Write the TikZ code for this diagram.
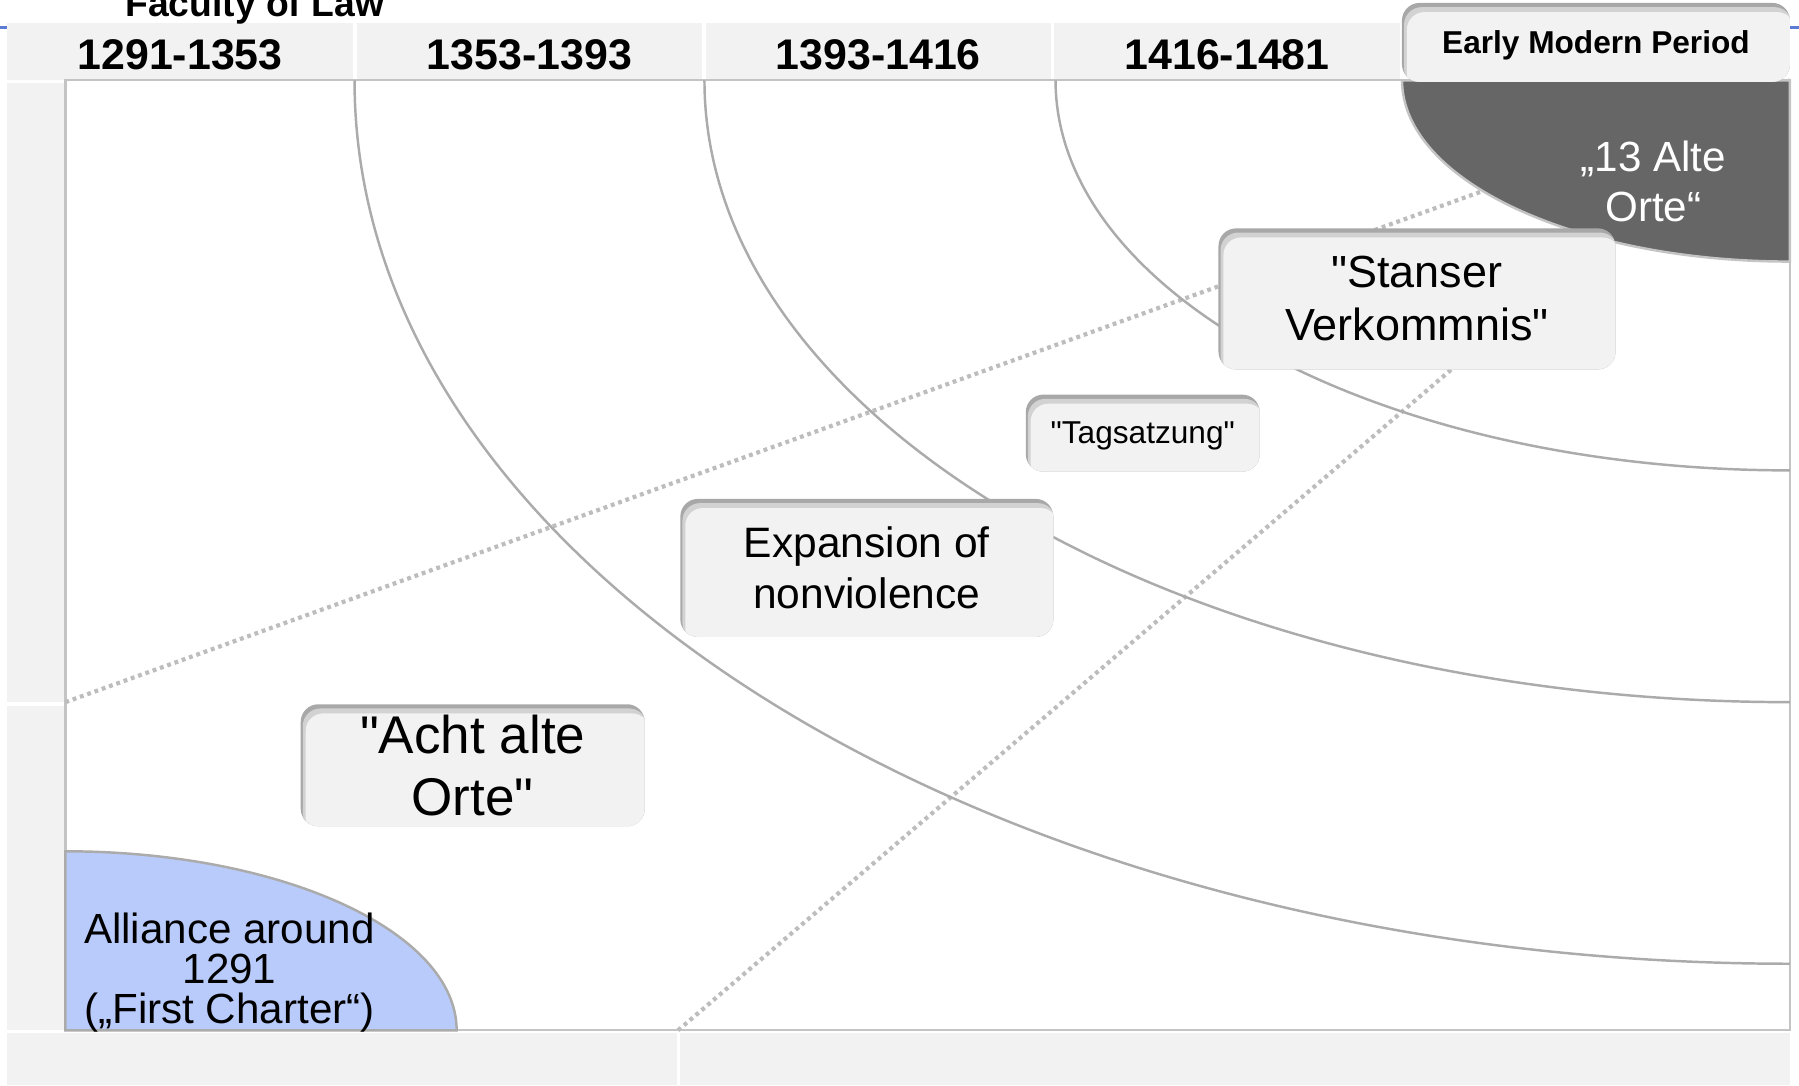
\documentclass[tikz,border=0pt]{standalone}
\usepackage{fontspec}
\setmainfont{Liberation Sans}
\newfontfamily\plainsans{Liberation Sans}
\usetikzlibrary{calc}

\definecolor{cellgray}{HTML}{F2F2F2}
\definecolor{framegray}{HTML}{C4C4C4}
\definecolor{arcgray}{HTML}{ABABAB}
\definecolor{dotgray}{HTML}{BDBDBD}
\definecolor{ortegray}{HTML}{666666}
\definecolor{allianceblue}{HTML}{B9CBFA}
\definecolor{slideblue}{HTML}{5B7BD5}
\definecolor{shadegray}{HTML}{A8A8A8}
\definecolor{midshade}{HTML}{D2D2D2}

\def\ux{0.01148cm}

\tikzset{
  era/.style={draw=arcgray, line width=0.7pt},
  ray/.style={draw=dotgray, line width=1.2pt, dash pattern=on 1.1pt off 1.1pt},
  period/.style={font=\fontsize{12.2}{14}\selectfont\bfseries, inner sep=0pt},
  event/.style={rounded corners=5pt, fill=shadegray, align=center, inner sep=0pt,
    path picture={
      \fill[midshade, rounded corners=5pt] ([shift={(0.6pt,-1.2pt)}]path picture bounding box.south west)
        rectangle ([shift={(0.6pt,-1.2pt)}]path picture bounding box.north east);
      \fill[cellgray, rounded corners=5pt] ([shift={(1.4pt,-2.6pt)}]path picture bounding box.south west)
        rectangle ([shift={(1.4pt,-2.6pt)}]path picture bounding box.north east);
    }},
}

\begin{document}
\begin{tikzpicture}[x=\ux,y=\ux]
    \useasboundingbox (0,0) rectangle (1568,946);

		% Raster
		\draw [slideblue, line width=0.8pt] (0,922) -- (6,922) (1560,922) -- (1568,922);
		\foreach \xa/\xb/\yrs [count=\i] in {6/308/1291-1353, 311/612/1353-1393, 615/916/1393-1416, 919/1220/1416-1481}
		{
		  \fill [cellgray] (\xa,876) rectangle (\xb,926);
		  \node [period] (h\i) at ({(\xa+\xb)/2},898) {\yrs};
		}
		\fill [cellgray] (6,334) rectangle (57,874);
		\fill [cellgray] (6,48) rectangle (57,331);
		\fill [cellgray] (6,0) rectangle (590,46);
		\fill [cellgray] (593,0) rectangle (1560,46);
		\draw [framegray, line width=0.65pt] (57,48) rectangle (1560,876);

		\node [font=\fontsize{10.6}{12}\selectfont\bfseries, anchor=base, inner sep=0pt] (faculty) at (222,932) {Faculty of Law};

		\coordinate (o) at (1560,876); % Mittelpunkt
		\coordinate (r1) at (57,334);
		\coordinate (r2) at (591,48);

		\draw [ray] (r1) -- (o);
		\draw [ray] (r2) -- (o);

		\foreach \a/\b in {1251/770, 946/542, 640/340}
		  \draw [era] (o) ++(-\a,0) arc [start angle=180, end angle=270, x radius={\a*\ux}, y radius={\b*\ux}];

		% Flaechen
		\filldraw [fill=ortegray, draw=framegray, line width=0.7pt] (1222,876)
		  arc [start angle=180, end angle=270, x radius={338*\ux}, y radius={158*\ux}] -- (o) -- cycle;
		\filldraw [fill=allianceblue, draw=arcgray, line width=0.7pt] (57,204)
		  arc [start angle=90, end angle=0, x radius={341*\ux}, y radius={156*\ux}] -- (57,48) -- cycle;

		\node [font=\fontsize{12}{14.4}\selectfont, text=white, align=center, inner sep=0pt] (orte13) at (1441,788) {„13 Alte\\Orte“};
		\node [font=\fontsize{12}{11.4}\selectfont, align=center, inner sep=0pt] (alliance) at (200,98) {Alliance around\\1291\\(„First Charter“)};

		% Kaesten
		\node [event, minimum width=3.88cm, minimum height=0.79cm, text depth=0pt, font=\fontsize{9}{11}\selectfont\bfseries] (early) at (1391,909) {Early Modern Period};
		\node [event, minimum width=3.97cm, minimum height=1.41cm, font=\plainsans\fontsize{12.8}{15}\selectfont] (stans) at (1235,685.5) {"Stanser\\Verkommnis"};
		\node [event, minimum width=2.34cm, minimum height=0.77cm, text depth=0pt, font=\plainsans\fontsize{9}{11}\selectfont] (tag) at (996,568.5) {"Tagsatzung"};
		\node [event, minimum width=3.73cm, minimum height=1.38cm, font=\fontsize{12.1}{14.4}\selectfont] (expans) at (755.5,451) {Expansion of\\nonviolence};
		\node [event, minimum width=3.44cm, minimum height=1.22cm, font=\plainsans\fontsize{15.1}{17.6}\selectfont] (acht) at (412,279) {"Acht alte\\Orte"};
\end{tikzpicture}
\end{document}
